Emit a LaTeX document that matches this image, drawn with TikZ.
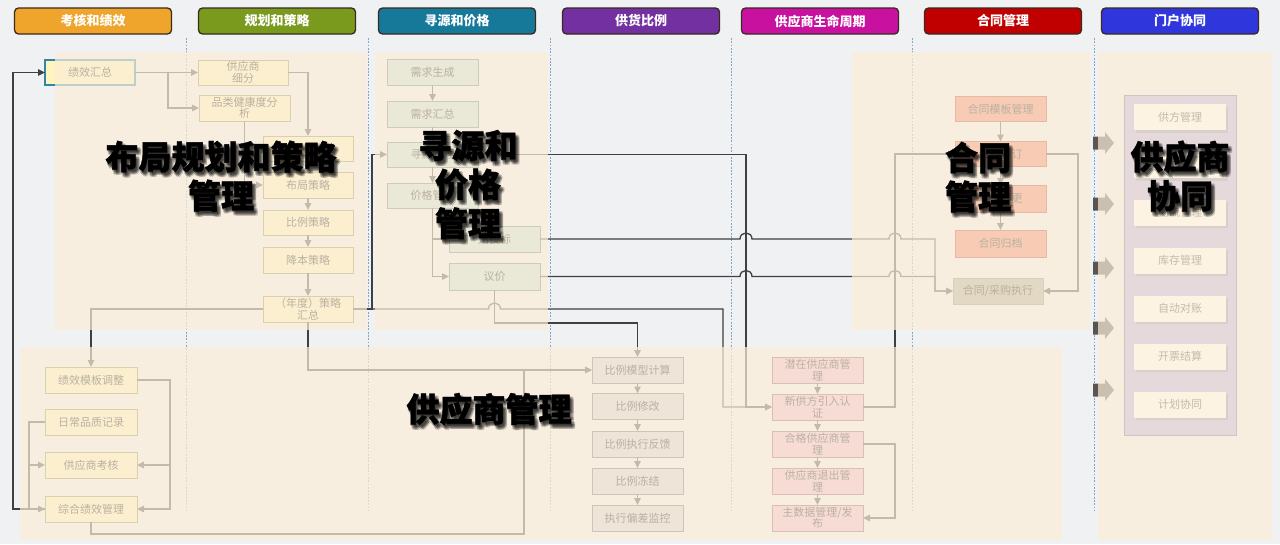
\documentclass[tikz,border=0pt]{standalone}
\usepackage{fontspec}
\setmainfont{Noto Sans CJK SC}
\newfontfamily\heavyfont{Noto Sans CJK SC}[BoldFeatures={FakeBold=1.2}]
\usetikzlibrary{arrows.meta,shadows}
\definecolor{bgc}{HTML}{F0F1F3}
\definecolor{panelc}{HTML}{FBEED8}
\definecolor{linec}{HTML}{404040}
\definecolor{sepc}{HTML}{7FA6C6}
\definecolor{hdrb}{HTML}{3A2A22}
\definecolor{c1}{HTML}{EFA52B}
\definecolor{c2}{HTML}{7A9A1E}
\definecolor{c3}{HTML}{16799A}
\definecolor{c4}{HTML}{7330A0}
\definecolor{c5}{HTML}{C9119F}
\definecolor{c6}{HTML}{C00000}
\definecolor{c7}{HTML}{2F37DC}
\definecolor{txtc}{HTML}{202020}
\definecolor{yfill}{HTML}{FFF3BE}
\definecolor{ydraw}{HTML}{8C8A48}
\definecolor{tfill}{HTML}{C3DAD7}
\definecolor{tdraw}{HTML}{5A7F7C}
\definecolor{gfill}{HTML}{D0D0DA}
\definecolor{gdraw}{HTML}{606670}
\definecolor{pfill}{HTML}{F0B4D0}
\definecolor{pdraw}{HTML}{8D555F}
\definecolor{sfill}{HTML}{EE7A60}
\definecolor{sdraw}{HTML}{B04030}
\definecolor{efill}{HTML}{A8A595}
\definecolor{edraw}{HTML}{878A87}
\definecolor{lfill}{HTML}{B2A8E5}
\definecolor{ldraw}{HTML}{586F95}
\definecolor{barc}{HTML}{5A5550}
\definecolor{jxteal}{HTML}{2E86A8}
\begin{document}
\begin{tikzpicture}[x=1pt,y=-1pt,
 every node/.style={inner sep=0pt, outer sep=0pt},
 bx/.style={draw, line width=0.9pt, minimum width=91pt, minimum height=26pt, align=center, text=txtc, font=\fontsize{11}{11.5}\selectfont},
 ybox/.style={bx, fill=yfill, draw=ydraw},
 tbox/.style={bx, fill=tfill, draw=tdraw},
 gbox/.style={bx, fill=gfill, draw=gdraw},
 pbox/.style={bx, fill=pfill, draw=pdraw},
 sbox/.style={bx, fill=sfill, draw=sdraw},
 wbox/.style={bx, fill=white, draw=none, minimum width=92pt, text=txtc!85, drop shadow={shadow xshift=2pt, shadow yshift=-2.5pt, opacity=0.45, fill=black!60}},
 ln/.style={draw=linec, line width=1.3pt},
 arr/.style={ln, -{Triangle[length=7pt,width=6.5pt]}},
 hdr/.style={draw=hdrb, line width=1.3pt, rounded corners=4pt, minimum width=157pt, minimum height=26pt, text=white, font=\fontsize{13}{13}\selectfont\bfseries},
 sep/.style={draw=sepc, line width=0.9pt, dash pattern=on 1.8pt off 1.5pt},
 panel/.style={fill=panelc, fill opacity=0.7},
 ttl/.style={align=center, font=\fontsize{33}{39}\selectfont\heavyfont\bfseries, text=black},
 ttlsh/.style={ttl, text opacity=0.14},
 barrow/.style={fill=barc},
]
\useasboundingbox (0,0) rectangle (1280,544);
\fill[bgc] (0,0) rectangle (1280,544);

% separators
\foreach \x in {186,368,550,731,912,1094} \draw[sep] (\x,38) -- (\x,510);

% headers
\node[hdr, fill=c1] (h1) at (93,21) {考核和绩效};
\node[hdr, fill=c2] (h2) at (277,21) {规划和策略};
\node[hdr, fill=c3] (h3) at (457,21) {寻源和价格};
\node[hdr, fill=c4] (h4) at (641,21) {供货比例};
\node[hdr, fill=c5] (h5) at (820,21) {供应商生命周期};
\node[hdr, fill=c6] (h6) at (1003,21) {合同管理};
\node[hdr, fill=c7] (h7) at (1180,21) {门户协同};

% planning boxes
\node[ybox, draw=jxteal, line width=1.2pt, minimum width=90pt, minimum height=25pt] (jxhz) at (90,72.5) {绩效汇总};
\node[ybox, minimum width=90pt, minimum height=25pt] (gysxf) at (243,72.5) {供应商\\细分};
\node[ybox] (plj) at (244.5,108) {品类健康度分\\析};
\node[ybox, minimum width=90pt, minimum height=25pt] (hid1) at (308,148.5) {供应商策略};
\node[ybox, minimum width=90pt] (bjcl) at (308,185) {布局策略};
\node[ybox, minimum width=90pt, minimum height=25pt] (blcl) at (308,222.5) {比例策略};
\node[ybox, minimum width=90pt] (jbcl) at (308,260) {降本策略};
\node[ybox, minimum width=90pt] (ndhz) at (308,309) {（年度）策略\\汇总};

% performance boxes
\node[ybox, minimum width=92pt] (jxmb) at (91,380) {绩效模板调整};
\node[ybox, minimum width=92pt] (rcpz) at (91,422) {日常品质记录};
\node[ybox, minimum width=92pt] (gyskh) at (91,465) {供应商考核};
\node[ybox, minimum width=92pt] (zhjx) at (91,509) {综合绩效管理};

% sourcing boxes
\node[tbox] (xqsc) at (432.5,72) {需求生成};
\node[tbox] (xqhz) at (432.5,114) {需求汇总};
\node[tbox, minimum height=25pt] (xy3) at (432.5,154.5) {寻源管理};
\node[tbox, minimum height=25pt] (jggl) at (432.5,195.5) {价格管理};
\node[tbox] (ztb) at (494.5,239) {招投标};
\node[tbox, minimum height=27pt] (yj) at (494.5,276.5) {议价};

% ratio boxes
\node[gbox] (blmx) at (637.5,370) {比例模型计算};
\node[gbox] (blxg) at (637.5,406.5) {比例修改};
\node[gbox] (blzx) at (637.5,444) {比例执行反馈};
\node[gbox] (bldj) at (637.5,481) {比例冻结};
\node[gbox] (zxpc) at (637.5,518) {执行偏差监控};

% lifecycle boxes
\node[pbox] (qzgys) at (817.5,370) {潜在供应商管\\理};
\node[pbox] (xgf) at (817.5,407) {新供方引入认\\证};
\node[pbox] (hggys) at (817.5,444) {合格供应商管\\理};
\node[pbox] (gystc) at (817.5,481) {供应商退出管\\理};
\node[pbox] (zsj) at (817.5,518) {主数据管理/发\\布};

% contract boxes
\node[sbox, minimum height=25pt] (htmb) at (1000.5,109) {合同模板管理};
\node[sbox, minimum height=25pt] (htqd) at (1000.5,154) {合同签订};
\node[sbox, minimum height=27pt] (htbg) at (1000.5,198.5) {合同变更};
\node[sbox, minimum height=27pt] (htgd) at (1000.5,243.5) {合同归档};
\node[bx, fill=efill, draw=edraw, minimum width=90pt] (htzx) at (998,291) {合同/采购执行};

% portal boxes
\node[draw=ldraw, fill=lfill, line width=1pt, minimum width=112pt, minimum height=340pt] (xtbox) at (1180,265) {};
\node[wbox] (gfgl) at (1180,117) {供方管理};
\node[wbox] (xt2) at (1180,165) {};
\node[wbox] (wlgl) at (1180,212.5) {物流管理};
\node[wbox] (kcgl) at (1180,260.5) {库存管理};
\node[wbox] (zddz) at (1180,308.5) {自动对账};
\node[wbox] (kpjs) at (1180,356.5) {开票结算};
\node[wbox] (jhxt) at (1180,404.5) {计划协同};

% block arrows
\foreach \c in {143,204,268,328,390}
  \fill[barrow] (1093,\c-6.5) -- (1105,\c-6.5) -- (1105,\c-11) -- (1114,\c) -- (1105,\c+11) -- (1105,\c+6.5) -- (1093,\c+6.5) -- cycle;

% connectors: planning
\draw[arr] (jxhz.east) -- (gysxf.west);
\draw[arr] (jxhz.east) -- ++(33,0) |- (plj.west);
\draw[arr] (gysxf.east) -| (hid1.north);
\draw[arr] (plj.south) |- (bjcl.west);
\draw[arr] (hid1.south) -- (bjcl.north);
\draw[arr] (bjcl.south) -- (blcl.north);
\draw[arr] (blcl.south) -- (jbcl.north);
\draw[arr] (jbcl.south) -- (ndhz.north);
\draw[arr] (ndhz.west) -| (jxmb.north);
\draw[arr] (ndhz.south) |- (blmx.west);
\draw[arr] (zhjx.south) -- ++(0,12) -| (524,370) -- (blmx.west);
\draw[arr] (zhjx.west) -- (13,509) |- (jxhz.west);
\draw[arr] (jxmb.east) -- ++(33,0) |- (gyskh.east);
\draw[arr] (jxmb.east) -- ++(33,0) |- (zhjx.east);
\draw[arr] (rcpz.west) -- ++(-16,0) |- (gyskh.west);
\draw[arr] (rcpz.west) -- ++(-16,0) |- (zhjx.west);

% sourcing
\draw[arr] (xqsc.south) -- (xqhz.north);
\draw[arr] (xqhz.south) -- (xy3.north);
\draw[arr] (xy3.south) -- (jggl.north);
\draw[arr] (jggl.south) |- (ztb.west);
\draw[arr] (jggl.south) |- (yj.west);
\draw[arr] (ndhz.east) -- (372,309) |- (xy3.west);
\draw[arr] (ndhz.east) -- (488.5,309) .. controls (488.5,301) and (500.5,301) .. (500.5,309) -- (723,309) |- (xgf.west);
\draw[arr] (xy3.east) -- (746,154.5) |- (xgf.west);
\draw[arr] (yj.south) -- (494.5,323) -| (blmx.north);
\draw[arr] (ztb.east) -- (740,239) .. controls (740,231) and (752,231) .. (752,239) -- (889,239) .. controls (889,231) and (901,231) .. (901,239) -- (935,239) |- (htzx.west);
\draw[arr] (yj.east) -- (740,276.5) .. controls (740,268.5) and (752,268.5) .. (752,276.5) -- (889,276.5) .. controls (889,268.5) and (901,268.5) .. (901,276.5) -- (935,276.5) |- (htzx.west);

% ratio
\draw[arr] (blmx.south) -- (blxg.north);
\draw[arr] (blxg.south) -- (blzx.north);
\draw[arr] (blzx.south) -- (bldj.north);
\draw[arr] (bldj.south) -- (zxpc.north);

% lifecycle
\draw[arr] (qzgys.south) -- (xgf.north);
\draw[arr] (xgf.south) -- (hggys.north);
\draw[arr] (hggys.south) -- (gystc.north);
\draw[arr] (gystc.south) -- (zsj.north);
\draw[arr] (hggys.east) -- (895,444) |- (zsj.east);
\draw[arr] (xgf.east) -- (895,407) |- (htqd.west);

% contract
\draw[arr] (htmb.south) -- (htqd.north);
\draw[arr] (htqd.south) -- (htbg.north);
\draw[arr] (htbg.south) -- (htgd.north);
\draw[arr] (htqd.east) -- (1078,154) |- (htzx.east);

% overlay panels
\fill[panel] (55,52) rectangle (367,330);
\fill[panel] (375,52) rectangle (548,330);
\fill[panel] (852,52) rectangle (1090,330);
\fill[panel] (1098,52) rectangle (1272,540);
\fill[panel] (20,347) rectangle (1062,540);

% titles
\foreach \dx/\dy [count=\k] in {1/2,2/3,3/4,3/2,1/4,4/3,2/5,0/1,4/5} {
  \node[ttlsh] (sa\k) at (221+\dx,176+\dy) {布局规划和策略\\管理};
  \node[ttlsh] (sb\k) at (468+\dx,184.5+\dy) {寻源和\\价格\\管理};
  \node[ttlsh] (sc\k) at (978+\dx,177+\dy) {合同\\管理};
  \node[ttlsh] (sd\k) at (1180+\dx,176+\dy) {供应商\\协同};
  \node[ttlsh] (se\k) at (489+\dx,409+\dy) {供应商管理};
}
\node[ttl] (ta) at (221,176) {布局规划和策略\\管理};
\node[ttl] (tb) at (468,184.5) {寻源和\\价格\\管理};
\node[ttl] (tc) at (978,177) {合同\\管理};
\node[ttl] (td) at (1180,176) {供应商\\协同};
\node[ttl] (te) at (489,409) {供应商管理};
\end{tikzpicture}
\end{document}
